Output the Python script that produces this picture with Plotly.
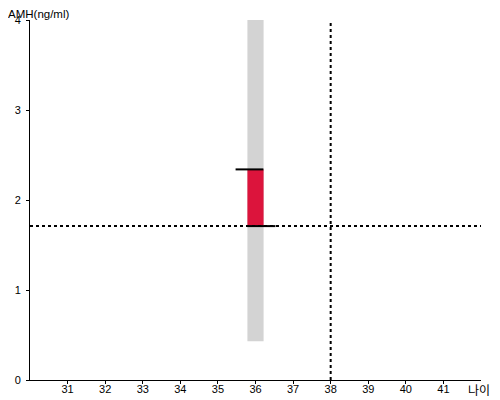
import plotly.graph_objects as go

# values
age = 36
ref_age = 38
amh_ref = 1.71
range_low, range_high = 0.43, 4.0
amh_low, amh_high = 1.71, 2.34
bar_width = 0.43
x_ticks = list(range(31, 42))
y_ticks = [0, 1, 2, 3, 4]

fig = go.Figure()

# gray range band
fig.add_trace(go.Bar(x=[age], y=[range_high - range_low], base=[range_low], width=[bar_width],
                     marker=dict(color='#d3d3d3', line=dict(width=0)), hoverinfo='skip'))
# red measured band
fig.add_trace(go.Bar(x=[age], y=[amh_high - amh_low], base=[amh_low], width=[bar_width],
                     marker=dict(color='#dc143c', line=dict(width=0)), hoverinfo='skip'))

# dotted reference lines
fig.add_trace(go.Scatter(x=[30, 42], y=[amh_ref, amh_ref], mode='lines',
                         line=dict(color='black', width=2, dash='dot')))
fig.add_trace(go.Scatter(x=[ref_age, ref_age], y=[0, 4], mode='lines',
                         line=dict(color='black', width=2, dash='dot')))

# caps
fig.add_trace(go.Scatter(x=[age - 0.53, age + 0.21], y=[amh_high, amh_high], mode='lines',
                         line=dict(color='black', width=2)))
fig.add_trace(go.Scatter(x=[age - 0.22, age + 0.53], y=[amh_low, amh_low], mode='lines',
                         line=dict(color='black', width=2)))

# page adds ~8px body margin, so margins are shifted to compensate
fig.update_layout(
    width=500, height=400,
    margin=dict(l=22, r=27, t=12, b=28),
    plot_bgcolor='white', paper_bgcolor='white',
    showlegend=False, barmode='overlay',
    font=dict(family='Liberation Sans, Arial', size=11, color='black'),
)
fig.update_xaxes(range=[30, 42], tickvals=x_ticks, showgrid=False, zeroline=False,
                 showline=True, linecolor='black', linewidth=1, automargin=False,
                 ticks='outside', ticklen=3, tickcolor='black', ticklabelstandoff=-4)
fig.update_yaxes(range=[0, 4], tickvals=y_ticks, showgrid=False, zeroline=False,
                 showline=True, linecolor='black', linewidth=1, automargin=False,
                 ticks='outside', ticklen=3, tickcolor='black', ticklabelstandoff=3)

fig.add_annotation(text='AMH(ng/ml)', x=0, y=1, xref='paper', yref='paper',
                   xanchor='left', yanchor='top', xshift=-23, yshift=13,
                   showarrow=False, borderpad=0, font=dict(size=11.5))
fig.add_annotation(text='나이', x=1, y=0, xref='paper', yref='paper',
                   xanchor='right', yanchor='top', xshift=10, yshift=0,
                   showarrow=False, borderpad=0, font=dict(size=12, family='Noto Sans CJK KR'))

fig.write_html("out.html")
